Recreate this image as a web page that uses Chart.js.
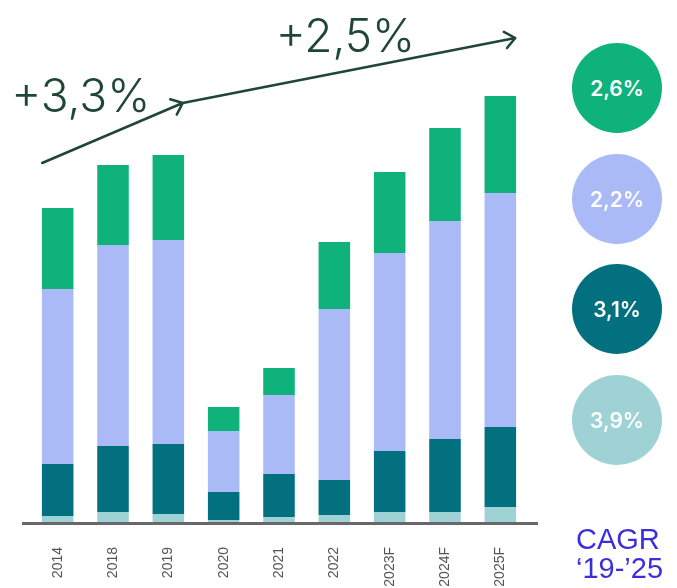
<!DOCTYPE html>
<html>
<head>
<meta charset="utf-8">
<script src="https://cdn.jsdelivr.net/npm/chart.js@4.4.1/dist/chart.umd.min.js"></script>
<style>
  html, body { margin: 0; padding: 0; background: #ffffff; }
  #wrap { position: relative; width: 677px; height: 588px; overflow: hidden; }
  #chart { position: absolute; left: 0; top: 0; }
  .badge {
    position: absolute; left: 572px; width: 90px; height: 90px; border-radius: 50%;
    display: flex; align-items: center; justify-content: center;
    color: #ffffff; font: 600 21px 'Inter', 'Liberation Sans', sans-serif;
  }
  .cagr {
    position: absolute; left: 576px; top: 525px; color: #3b2fdc;
    font: 29px 'Liberation Sans', Arial, sans-serif; line-height: 29px;
  }
</style>
</head>
<body>
<div id="wrap">
  <canvas id="chart" width="677" height="588"></canvas>
  <div id="badges"></div>
  <div class="cagr">CAGR<br>‘19-’25</div>
</div>
<script>
// Categories (years, F = forecast)
const years = ['2014', '2018', '2019', '2020', '2021', '2022', '2023F', '2024F', '2025F'];

// Stacked segments, bottom to top
const segLight    = [6, 10, 8, 2, 5, 7, 10, 10, 15];
const segTeal     = [52, 66, 70, 28, 43, 35, 61, 73, 80];
const segLavender = [175, 201, 204, 61, 79, 171, 198, 218, 234];
const segGreen    = [81, 80, 85, 24, 27, 67, 81, 93, 97];

// CAGR '19-'25 per segment, top segment first
const cagrLabels = ['2,6%', '2,2%', '3,1%', '3,9%'];

// Growth arrows: [category index, offset in category widths, value]
const arrowPoints = [[0, -0.28, 359], [2, 0.26, 419], [8, 0.27, 484]];
const growthLabels = ['+3,3%', '+2,5%'];

const COLORS = {
  green: '#0fb27b',
  lavender: '#aabaf6',
  teal: '#02707f',
  light: '#9fd2d5',
  ink: '#1f4637',
  axis: '#686868'
};

// Badges on the right, same colours as the segments
const badgeColors = [COLORS.green, COLORS.lavender, COLORS.teal, COLORS.light];
const badgeTops = [43, 154, 264, 375];
const badgeHost = document.getElementById('badges');
cagrLabels.forEach((txt, i) => {
  const d = document.createElement('div');
  d.className = 'badge';
  d.style.top = badgeTops[i] + 'px';
  d.style.background = badgeColors[i];
  d.textContent = txt;
  badgeHost.appendChild(d);
});

// Thick baseline slightly wider than the bar band
const baseline = {
  id: 'baseline',
  afterDatasetsDraw(chart) {
    const { ctx, chartArea } = chart;
    ctx.save();
    ctx.strokeStyle = COLORS.axis;
    ctx.lineWidth = 3;
    ctx.beginPath();
    ctx.moveTo(chartArea.left - 8, chartArea.bottom + 1.5);
    ctx.lineTo(chartArea.right + 10, chartArea.bottom + 1.5);
    ctx.stroke();
    ctx.restore();
  }
};

// Growth arrows with their labels
const growth = {
  id: 'growth',
  afterDraw(chart) {
    const { ctx } = chart;
    const xs = chart.scales.x, ys = chart.scales.y;
    const band = (xs.right - xs.left) / years.length;
    const pts = arrowPoints.map(([i, off, v]) => [xs.getPixelForValue(i) + off * band, ys.getPixelForValue(v)]);
    ctx.save();
    ctx.strokeStyle = COLORS.ink;
    ctx.lineWidth = 2.5;
    ctx.lineCap = 'round';
    ctx.lineJoin = 'round';
    for (let k = 0; k < pts.length - 1; k++) {
      const [x0, y0] = pts[k], [x1, y1] = pts[k + 1];
      ctx.beginPath();
      ctx.moveTo(x0, y0);
      ctx.lineTo(x1, y1);
      const a = Math.atan2(y1 - y0, x1 - x0);
      const h = 13;
      ctx.moveTo(x1 + h * Math.cos(a + Math.PI * 0.78), y1 + h * Math.sin(a + Math.PI * 0.78));
      ctx.lineTo(x1, y1);
      ctx.lineTo(x1 + h * Math.cos(a - Math.PI * 0.78), y1 + h * Math.sin(a - Math.PI * 0.78));
      ctx.stroke();
    }
    ctx.fillStyle = COLORS.ink;
    ctx.font = '300 46px Inter, "Liberation Sans", sans-serif';
    ctx.textBaseline = 'alphabetic';
    ctx.textAlign = 'left';
    ctx.fillText(growthLabels[0], pts[0][0] - 31, pts[0][1] - 51);
    ctx.fillText(growthLabels[1], pts[1][0] + 93, pts[1][1] - 51);
    ctx.restore();
  }
};

new Chart(document.getElementById('chart'), {
  type: 'bar',
  data: {
    labels: years,
    datasets: [
      { label: 'light', data: segLight, backgroundColor: COLORS.light },
      { label: 'teal', data: segTeal, backgroundColor: COLORS.teal },
      { label: 'lavender', data: segLavender, backgroundColor: COLORS.lavender },
      { label: 'green', data: segGreen, backgroundColor: COLORS.green }
    ]
  },
  options: {
    responsive: false,
    animation: false,
    events: [],
    layout: { padding: { top: 22, left: 30, right: 149, bottom: 0 } },
    datasets: { bar: { barPercentage: 0.57, categoryPercentage: 1, borderWidth: 0 } },
    plugins: { legend: { display: false }, tooltip: { enabled: false } },
    scales: {
      x: {
        stacked: true,
        grid: { display: false, drawTicks: false },
        border: { display: false },
        ticks: {
          color: '#555555',
          font: { family: '"Liberation Sans", Arial, sans-serif', size: 14 },
          minRotation: 90, maxRotation: 90, padding: 25, autoSkip: false
        },
        afterFit(scale) { scale.height = 66; }
      },
      y: { stacked: true, display: false, min: 0, max: 500 }
    }
  },
  plugins: [baseline, growth]
});
</script>
</body>
</html>
